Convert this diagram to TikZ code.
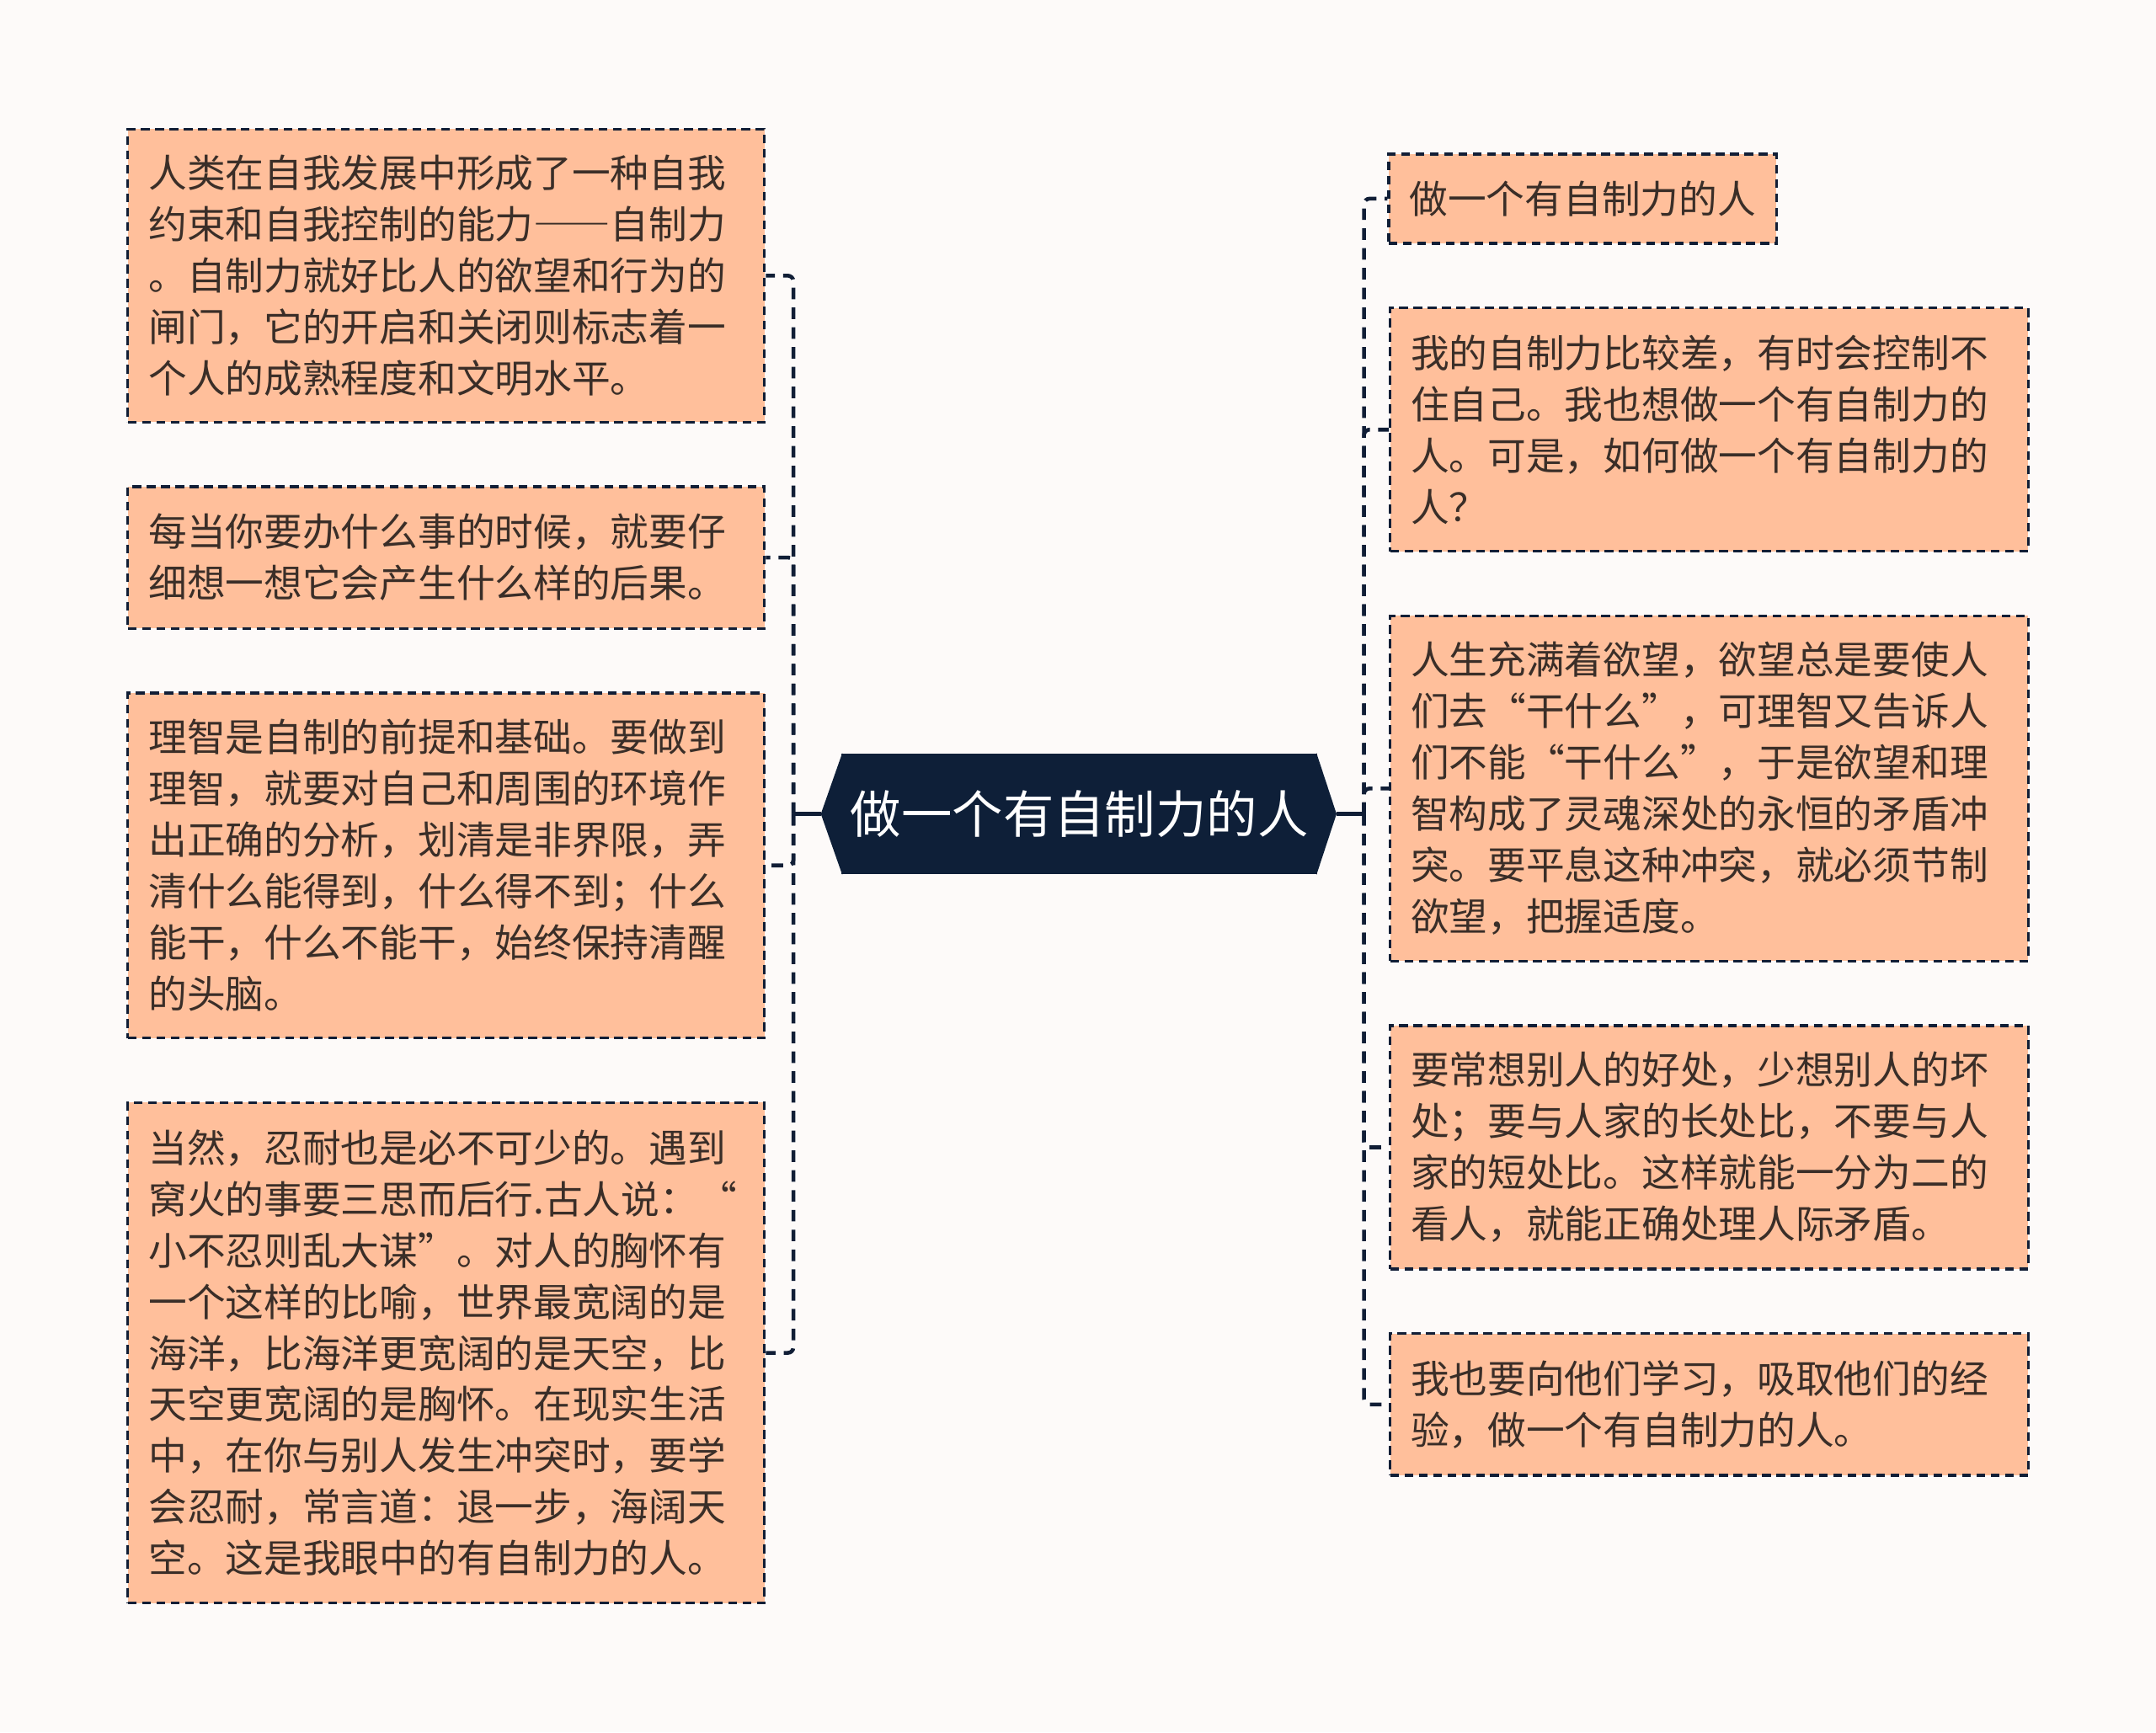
\documentclass[tikz,border=0pt]{standalone}
\usepackage{fontspec}
\setmainfont{Noto Sans CJK SC}
\definecolor{bgc}{HTML}{FDFAF9}
\definecolor{peach}{HTML}{FFBF9B}
\definecolor{navy}{HTML}{111E36}
\definecolor{cfill}{HTML}{0E1F38}
\definecolor{txt}{HTML}{3A2E28}
\begin{document}
\begin{tikzpicture}[x=0.5pt,y=-0.5pt,
  box/.style={draw=navy, line width=1pt, dash pattern=on 3.2pt off 2pt, fill=peach,
    text=txt, align=left, inner xsep=7.5pt, inner ysep=0pt,
    font=\fontsize{14pt}{18.65pt}\selectfont},
  lbox/.style={box, text width=216.5pt},
  rbox/.style={box, text width=217pt},
  cnode/.style={fill=cfill, text=white, inner sep=0pt, minimum width=173pt, minimum height=44pt,
    font=\fontsize{18.5pt}{22pt}\selectfont},
  conn/.style={draw=navy, line width=1.4pt, dash pattern=on 4.2pt off 3pt, rounded corners=2pt},
  stub/.style={draw=navy, line width=1.6pt}]
\useasboundingbox[fill=bgc] (0,0) rectangle (1568,1260);

% center
\node[cnode] (c) at (785,592) {做一个有自制力的人};
\coordinate (cl) at (597,592);
\coordinate (cr) at (972,592);
\coordinate (lt) at (577,592);
\coordinate (rt) at (992,592);
\fill[cfill] ([xshift=0.5pt]c.north west) -- (cl) -- ([xshift=0.5pt]c.south west) -- cycle;
\fill[cfill] ([xshift=-0.5pt]c.north east) -- (cr) -- ([xshift=-0.5pt]c.south east) -- cycle;

% left boxes
\node[lbox, minimum height=106.5pt] (L1) at (324.5,200.5) {人类在自我发展中形成了一种自我\\约束和自我控制的能力{\addfontfeatures{CharacterWidth=Full}——}自制力\\。自制力就好比人的欲望和行为的\\闸门，它的开启和关闭则标志着一\\个人的成熟程度和文明水平。};
\node[lbox, minimum height=51.5pt] (L2) at (324.5,405.5) {每当你要办什么事的时候，就要仔\\细想一想它会产生什么样的后果。};
\node[lbox, minimum height=125.5pt] (L3) at (324.5,629.5) {理智是自制的前提和基础。要做到\\理智，就要对自己和周围的环境作\\出正确的分析，划清是非界限，弄\\清什么能得到，什么得不到；什么\\能干，什么不能干，始终保持清醒\\的头脑。};
\node[lbox, minimum height=182pt] (L4) at (324.5,984) {当然，忍耐也是必不可少的。遇到\\窝火的事要三思而后行.古人说：“\\小不忍则乱大谋”。对人的胸怀有\\一个这样的比喻，世界最宽阔的是\\海洋，比海洋更宽阔的是天空，比\\天空更宽阔的是胸怀。在现实生活\\中，在你与别人发生冲突时，要学\\会忍耐，常言道：退一步，海阔天\\空。这是我眼中的有自制力的人。};

% right boxes
\node[box, minimum width=140pt, minimum height=32.5pt] (R1) at (1151,144.5) {做一个有自制力的人};
\node[rbox, minimum height=88.5pt] (R2) at (1243,312.5) {我的自制力比较差，有时会控制不\\住自己。我也想做一个有自制力的\\人。可是，如何做一个有自制力的\\人？};
\node[rbox, minimum height=125.5pt] (R3) at (1243,573.5) {人生充满着欲望，欲望总是要使人\\们去“干什么”，可理智又告诉人\\们不能“干什么”，于是欲望和理\\智构成了灵魂深处的永恒的矛盾冲\\突。要平息这种冲突，就必须节制\\欲望，把握适度。};
\node[rbox, minimum height=88.5pt] (R4) at (1243,834.5) {要常想别人的好处，少想别人的坏\\处；要与人家的长处比，不要与人\\家的短处比。这样就能一分为二的\\看人，就能正确处理人际矛盾。};
\node[rbox, minimum height=51.5pt] (R5) at (1243,1021.5) {我也要向他们学习，吸取他们的经\\验，做一个有自制力的人。};

% connectors
\draw[stub] (cl) -- (lt);
\draw[stub] (cr) -- (rt);
\foreach \n in {L1,L2,L3,L4} \draw[conn] (lt) |- (\n.east);
\foreach \n in {R1,R2,R3,R4,R5} \draw[conn] (rt) |- (\n.west);
\end{tikzpicture}
\end{document}
